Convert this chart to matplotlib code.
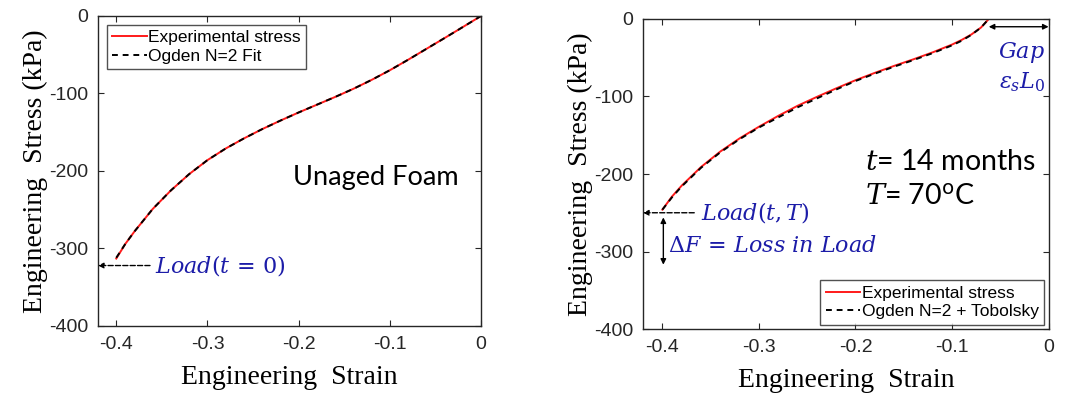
import numpy as np
import matplotlib.pyplot as plt

plt.rcParams['mathtext.fontset'] = 'dejavuserif'
plt.rcParams['axes.unicode_minus'] = False

# left panel: unaged foam
strain_a = [-0.40, -0.39, -0.38, -0.36, -0.34, -0.32, -0.30, -0.28, -0.26, -0.24, -0.22,
            -0.20, -0.18, -0.16, -0.14, -0.12, -0.10, -0.08, -0.06, -0.04, -0.02, 0.0]
stress_a = [-313, -294, -278, -249, -225, -204, -186, -171, -158, -146, -135,
            -124.5, -114.5, -104.5, -94, -82.5, -70, -56.5, -42.5, -28.5, -14.3, 0]
fit_a = [-312, -294, -278, -249, -225, -204, -186, -171, -158, -146, -135,
         -124.5, -114.5, -104.5, -94, -82.5, -70, -56.5, -42.5, -28.5, -14.3, 0]

# right panel: aged 14 months at 70C
strain_b = [-0.40, -0.39, -0.38, -0.36, -0.34, -0.32, -0.30, -0.28, -0.26, -0.24, -0.22,
            -0.20, -0.18, -0.16, -0.14, -0.12, -0.10, -0.09, -0.08, -0.07, -0.062]
stress_b = [-246, -229, -215, -191, -171, -154, -139, -125, -112, -100.5, -89.5,
            -79, -69.5, -60.5, -52, -43, -33, -27, -20, -11, 0]
fit_b = [-246, -230, -216, -192, -172, -155, -140, -127, -114, -102.5, -91,
         -80, -70.5, -61.5, -53, -44, -34, -28, -20.5, -11, 0]

navy = '#1c1ca8'
serif = 'Liberation Serif'
sans = 'Liberation Sans'

fig = plt.figure(figsize=(10.7, 3.99), dpi=100)
ax1 = fig.add_axes([0.0916, 0.183, 0.358, 0.777])
ax2 = fig.add_axes([0.601, 0.1754, 0.379, 0.777])

for ax in (ax1, ax2):
    ax.set_xlim(-0.42, 0)
    ax.set_ylim(-400, 0)
    ax.set_xticks([-0.4, -0.3, -0.2, -0.1, 0])
    ax.set_xticklabels(['-0.4', '-0.3', '-0.2', '-0.1', '0'])
    ax.set_yticks([-400, -300, -200, -100, 0])
    ax.tick_params(direction='in', top=True, right=True, length=4, width=0.8,
                   labelsize=14, colors='#262626', pad=7)
    for lab in ax.get_xticklabels() + ax.get_yticklabels():
        lab.set_family(sans)
    for s in ax.spines.values():
        s.set_color('#262626')
        s.set_linewidth(1.0)
    ax.set_xlabel('Engineering  Strain', family=serif, fontsize=20, labelpad=9)
    ax.set_ylabel('Engineering  Stress (kPa)', family=serif, fontsize=20, labelpad=1)

leg_kw = dict(prop={'family': sans, 'size': 12.5}, frameon=True, fancybox=False,
              edgecolor='#262626', handlelength=2.0, handletextpad=0.1, borderpad=0.3,
              labelspacing=0.2)

ax1.plot(strain_a, stress_a, color='#ff1a1a', lw=1.4, label='Experimental stress')
ax1.plot(strain_a, fit_a, color='black', lw=1.4, ls=(0, (3, 2.5)), label='Ogden N=2 Fit')
ax1.legend(loc='upper left', borderaxespad=0.5, **leg_kw).get_frame().set_linewidth(1.0)
ax1.text(-0.115, -208, 'Unaged Foam', family='Lato', fontsize=19.5, ha='center', va='center')
ax1.annotate('', xy=(-0.42, -322), xytext=(-0.363, -322),
             arrowprops=dict(arrowstyle='-|>', ls='--', lw=1, color='black',
                             mutation_scale=8, shrinkA=0, shrinkB=0))
ax1.text(-0.357, -322, r'$Load(t\,=\,0)$', color=navy, fontsize=16, va='center')

ax2.plot(strain_b, stress_b, color='#ff1a1a', lw=1.4, label='Experimental stress')
ax2.plot(strain_b, fit_b, color='black', lw=1.4, ls=(0, (3, 2.5)), label='Ogden N=2 + Tobolsky')
ax2.legend(loc='lower right', borderaxespad=0.25, **leg_kw).get_frame().set_linewidth(1.0)
ax2.text(-0.19, -184, r'$t$= 14 months', family='Lato', fontsize=20.5, va='center')
ax2.text(-0.19, -230, r'$T$= 70$^{\mathsf{o}}$C', family='Lato', fontsize=20.5, va='center')
ax2.annotate('', xy=(-0.42, -250), xytext=(-0.367, -250),
             arrowprops=dict(arrowstyle='-|>', ls='--', lw=1, color='black',
                             mutation_scale=8, shrinkA=0, shrinkB=0))
ax2.text(-0.36, -250, r'$Load(t,T)$', color=navy, fontsize=16, va='center')
ax2.annotate('', xy=(-0.399, -256), xytext=(-0.399, -317),
             arrowprops=dict(arrowstyle='<|-|>', lw=1, color='black',
                             mutation_scale=8, shrinkA=0, shrinkB=0))
ax2.text(-0.394, -292, r'$\Delta F\,=\,Loss\ in\ Load$', color=navy, fontsize=16, va='center')
ax2.annotate('', xy=(-0.062, -10), xytext=(0, -10),
             arrowprops=dict(arrowstyle='<|-|>', lw=1, color='black',
                             mutation_scale=8, shrinkA=0, shrinkB=0), annotation_clip=False)
ax2.text(-0.004, -43, r'$Gap$', color=navy, fontsize=16, ha='right', va='center')
ax2.text(-0.004, -82, r'$\varepsilon_s L_0$', color=navy, fontsize=16, ha='right', va='center')

fig.savefig('out.png', dpi=100)
